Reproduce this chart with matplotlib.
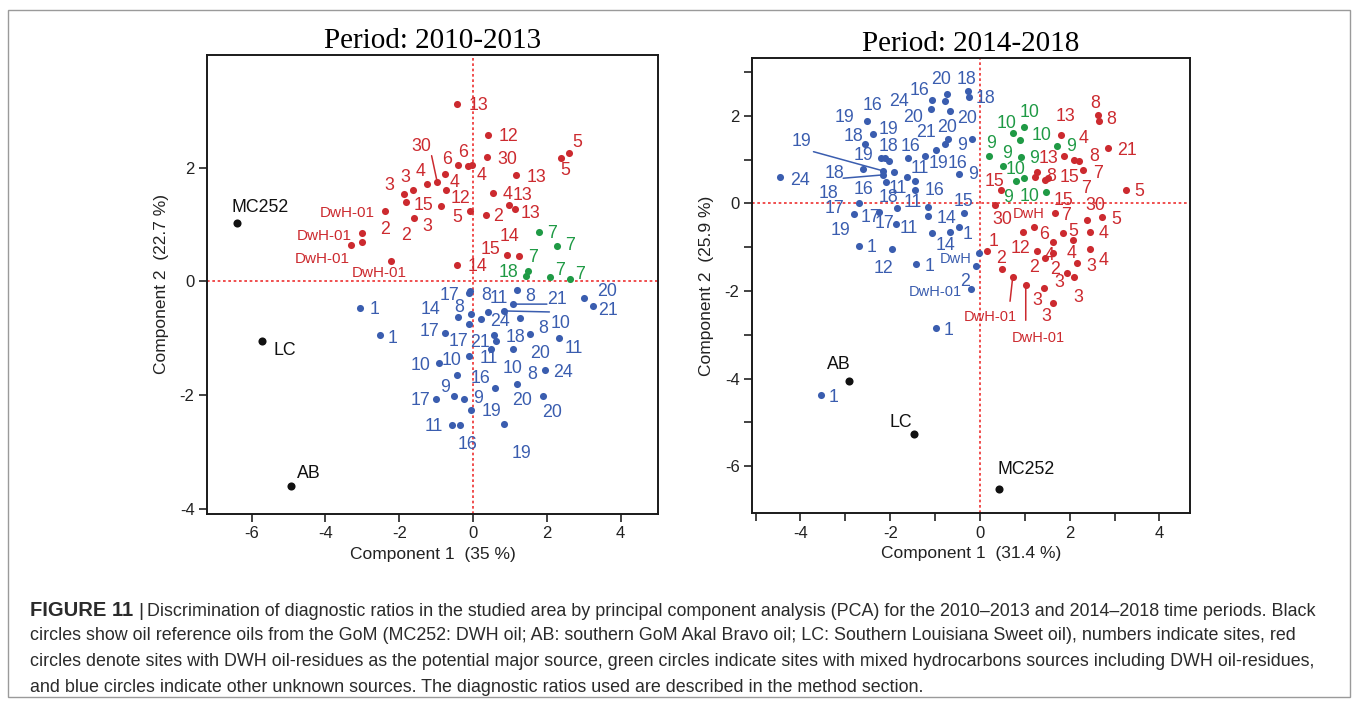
import matplotlib
matplotlib.use('Agg')
import matplotlib.pyplot as plt
from matplotlib.patches import Rectangle

plt.rcParams['font.family'] = ['Liberation Sans', 'DejaVu Sans']
plt.rcParams['axes.unicode_minus'] = False

RED = '#cc2a2f'
BLUE = '#3a5daf'
GREEN = '#1f9a45'
BLACK = '#111111'
REFLINE = '#ee3030'

# ---------------- Period 2010-2013 ----------------
p1_ref_x = [-6.41, -5.73, -4.93]
p1_ref_y = [1.02, -1.05, -3.59]
p1_ref_lab = ['MC252', 'LC', 'AB']

p1_red_x = [-2.38, -3.02, -3.02, -3.31, -2.22, -1.86, -1.62, -1.83, -1.25, -0.97,
            -0.76, -0.74, -0.87, -1.59, -0.43, -0.40, -0.13, -0.04, -0.08, -0.43,
            0.41, 0.39, 0.55, 0.34, 1.16, 0.98, 1.14, 2.38, 2.60, 0.93, 1.24]
p1_red_y = [1.23, 0.85, 0.69, 0.64, 0.35, 1.54, 1.60, 1.39, 1.71, 1.74,
            1.89, 1.60, 1.32, 1.12, 3.12, 2.04, 2.02, 2.05, 1.23, 0.29,
            2.58, 2.18, 1.56, 1.17, 1.87, 1.35, 1.28, 2.17, 2.26, 0.47, 0.44]
p1_red_lab = ['DwH-01', 'DwH-01', '2', 'DwH-01', 'DwH-01', '3', '3', '15', '4', '30',
              '4', '12', '2', '3', '13', '6', '6', '4', '5', '14',
              '12', '30', '4', '2', '13', '13', '13', '5', '5', '15', '14']

p1_green_x = [1.78, 2.27, 1.50, 1.44, 2.09, 2.63]
p1_green_y = [0.87, 0.63, 0.18, 0.09, 0.08, 0.05]
p1_green_lab = ['7', '7', '7', '18', '7', '7']

p1_blue_x = [-0.11, -0.08, 1.20, 1.07, 0.41, 0.21, 0.84, 3.01, 3.24, -0.40,
             -0.06, 1.27, -0.76, -0.10, 0.57, 1.08, 0.48, 1.53, 2.34, -0.92,
             -0.11, 1.18, 0.62, 1.95, -0.43, -0.53, -1.01, -0.24, 0.58, -0.06,
             1.89, -0.56, -0.35, 0.85, -3.06, -2.52]
p1_blue_y = [-0.21, -0.17, -0.16, -0.40, -0.53, -0.67, -0.52, -0.30, -0.43, -0.63,
             -0.57, -0.64, -0.91, -0.75, -0.95, -1.19, -1.19, -0.92, -0.99, -1.44,
             -1.32, -1.81, -1.04, -1.56, -1.64, -2.01, -2.06, -2.06, -1.88, -2.26,
             -2.01, -2.53, -2.53, -2.51, -0.46, -0.95]
p1_blue_lab = ['17', '8', '8', '21', '11', '24', '10', '20', '21', '14',
               '8', '8', '17', '17', '21', '18', '11', '20', '11', '10',
               '10', '10', '8', '24', '16', '9', '17', '9', '20', '19',
               '20', '11', '16', '19', '1', '1']

# ---------------- Period 2014-2018 ----------------
p2_ref_x = [-2.92, -1.47, 0.42]
p2_ref_y = [-4.06, -5.26, -6.52]
p2_ref_lab = ['AB', 'LC', 'MC252']

p2_red_x = [1.80, 2.63, 2.66, 2.86, 1.88, 2.09, 2.21, 2.29, 1.28, 1.23,
            1.45, 1.52, 0.46, 0.33, 1.67, 3.25, 2.38, 2.73, 2.45, 0.96,
            1.20, 1.84, 0.16, 1.63, 2.08, 1.28, 1.62, 1.45, 2.45, 0.48,
            2.17, 1.94, 2.09, 0.73, 1.02, 1.43, 1.62]
p2_red_y = [1.56, 2.02, 1.88, 1.27, 1.08, 0.99, 0.97, 0.76, 0.71, 0.61,
            0.53, 0.58, 0.30, -0.04, -0.21, 0.30, -0.37, -0.31, -0.65, -0.65,
            -0.53, -0.67, -1.08, -0.88, -0.84, -1.09, -1.13, -1.24, -1.04, -1.50,
            -1.37, -1.58, -1.68, -1.68, -1.87, -1.93, -2.28]
p2_red_lab = ['13', '8', '8', '21', '4', '7', '8', '7', '13', '8',
              '15', '15', '15', '30', '7', '5', '30', '5', '4', 'DwH',
              '6', '5', '1', '4', '4', '12', '2', '2', '4', '2',
              '3', '3', '3', 'DwH-01', 'DwH-01', '3', '3']

p2_green_x = [0.99, 0.74, 0.89, 1.71, 0.21, 0.91, 0.52, 0.80, 0.99, 1.48]
p2_green_y = [1.75, 1.60, 1.45, 1.32, 1.08, 1.06, 0.85, 0.51, 0.57, 0.25]
p2_green_lab = ['10', '10', '10', '9', '9', '9', '9', '9', '10', '10']

p2_blue_x = [-4.45, -2.52, -2.39, -2.56, -2.60, -2.20, -2.12, -2.02, -2.15, -2.17,
             -1.92, -2.09, -1.60, -1.62, -1.45, -1.45, -1.22, -0.99, -1.08, -0.74,
             -0.78, -1.10, -0.67, -0.72, -0.78, -0.26, -0.24, -0.17, -0.46, -2.69,
             -2.80, -2.24, -1.86, -1.87, -1.16, -1.15, -0.36, -1.06, -0.67, -0.47,
             -2.69, -1.97, -1.43, -0.02, -0.09, -0.21, -0.98, -3.54]
p2_blue_y = [0.60, 1.89, 1.58, 1.35, 0.78, 1.03, 1.03, 0.97, 0.74, 0.65,
             0.72, 0.48, 1.03, 0.61, 0.52, 0.30, 1.09, 1.22, 2.37, 2.49,
             2.34, 2.15, 2.11, 1.47, 1.35, 2.56, 2.42, 1.47, 0.67, 0.02,
             -0.24, -0.19, -0.11, -0.48, -0.09, -0.29, -0.21, -0.67, -0.65, -0.55,
             -0.97, -1.05, -1.39, -1.13, -1.43, -1.96, -2.85, -4.38]
p2_blue_lab = ['24', '16', '19', '18', '19', '18', '19', '18', '19', '18',
               '11', '18', '16', '11', '16', '11', '21', '19', '16', '20',
               '20', '24', '20', '20', '16', '18', '18', '9', '9', '17',
               '19', '17', '17', '11', '16', '14', '15', '14', '', '1',
               '1', '12', '1', 'DwH', '2', 'DwH-01', '1', '1']

# label placement (pixel offsets from each dot), kept apart from the values
p1_ref_off = [(24, 17.7), (22.7, -7), (17.3, 14)]
p1_red_off = [(-38, 0), (-37.3, -1), (23.7, 15), (-29, -13), (-11.7, -10), (-15.3, 10),
              (-7.7, 15), (18, -1.3), (-6.7, 15), (-15.7, 38.3), (9.3, -6.7), (14.3, -6),
              (-35.3, -27.3), (13.3, -6.7), (21, 0), (-11.7, 8.3), (-5, 16), (10, -9),
              (-13.3, -4.3), (20, 0), (20, 0), (20, 0), (14, 0), (12.7, 0), (20.3, 0),
              (13.7, 10.7), (15, -3.3), (4, -11), (7.7, 12), (-17.3, 7.3), (-9.3, 21.7)]
p1_green_off = [(13, 0), (13.3, 1.7), (5, 15.7), (-17.7, 5.3), (10, 8.3), (10, 6.3)]
p1_blue_off = [(-19.7, 0), (16, -2), (12.7, -4), (44.3, 6.7), (10.7, 15), (18.7, -0.3),
               (56, -11), (22.7, 9), (15.7, -3), (-27.7, 9.3), (-11.3, 8.3), (23.3, -9),
               (-15.7, 3.3), (-11, -15.3), (-14, -5), (2.3, 13.7), (-2.3, -7), (10.7, -18.3),
               (14, -9.3), (-19, 0), (-17.3, -2.3), (-4, 17.7), (36.7, -31.7), (18.3, 0),
               (23.7, -1.7), (-8, 10), (-15.7, 0), (13.7, 2), (27.3, -10), (21, 0),
               (9, -14.7), (-19, 0.7), (7.7, -17.7), (17.3, -27.3), (14, 0), (12.7, -0.7)]
p1_red_leaders = {9: (-5.7, 26.7)}
p1_blue_leaders = {3: (34.3, 0), 6: (45.3, -1)}

p2_ref_off = [(-9.7, 18.3), (-13.3, 13.7), (27, 21.7)]
p2_red_off = [(4.3, 20.7), (-3.3, 13.3), (11.4, 3.3), (18.4, -0.6), (19, 19.3), (12.7, -26.7),
              (14.7, 6.3), (15.6, -1.7), (11, 15.6), (15.7, 1.7), (18.3, -18.3), (21.7, 2.7),
              (-5.7, 11), (7.7, -12.7), (11, -1), (13.3, 1), (8.3, 16), (14, -0.6),
              (13.3, 0), (6, 19.4), (10, -6), (10.6, 3.4), (6, 11.4), (-3.3, -11.7),
              (-1.7, -11.7), (-17.3, 4.3), (2.3, -14.7), (-11, -8.3), (14, -9.3), (0, 13),
              (14.3, -0.7), (-7.3, -7.7), (5, -18.3), (-22, -38.3), (12.3, -51.7),
              (-7.3, -10.6), (-6, -11.7)]
p2_green_off = [(5, 16.7), (-6.6, 12.3), (21.7, 6.7), (14, 1.4), (1.7, 15), (13.3, 0),
                (3.4, 15), (-7.4, -14), (-9.3, 10.6), (-16.7, -2)]
p2_blue_off = [(20, -1.3), (6, 17.4), (15.6, 6.6), (-11.7, 9.7), (0, 15.7), (7.3, 13.3),
               (-40, 42.6), (-61, -30.3), (-81.6, 31), (-47.7, 3.3), (4.3, -15), (2.3, -13.4),
               (2.4, 14), (12.7, 10), (20, -8.3), (-1.7, -10), (1, 25), (2.6, -11.7),
               (-11.7, 11.6), (-6, 16.6), (-31.7, -14.7), (-31.4, 9.3), (16.7, -6), (-1, 14),
               (12.3, -17.4), (-1.6, 13.3), (16, 0.6), (-10.6, -4.3), (14, 1.7), (-24.3, -4.4),
               (-14.3, -14.3), (-9.3, -4), (-11.7, -13.4), (12.3, -2.4), (-64.4, 19.6),
               (17.7, -0.7), (-0.7, 12.7), (12.7, -10.6), (0, 0), (8.7, -5.4),
               (12.7, 0), (-8.3, -16.7), (14, 0), (-23.6, -4.3), (-11, -13.3), (-35.7, -1.4),
               (13, 0), (12.3, 0)]
p2_red_leaders = {33: (-2.7, -24.3), 34: (0, -35)}
p2_blue_leaders = {8: (-70, 19.3), 9: (-39.4, -3.3)}


def draw_group(ax, xs, ys, labels, offsets, color, leaders=None, dot=26, small=11):
    ax.scatter(xs, ys, s=dot, color=color, linewidths=0, zorder=3)
    leaders = leaders or {}
    for i, (x, y, lab, off) in enumerate(zip(xs, ys, labels, offsets)):
        if i in leaders:
            ax.annotate('', xy=(x, y), xytext=leaders[i], textcoords='offset pixels',
                        arrowprops=dict(arrowstyle='-', color=color, lw=1.1,
                                        shrinkA=0, shrinkB=0), zorder=2)
        if not lab:
            continue
        fs = small if lab.startswith('DwH') else 12.8
        ax.annotate(lab, (x, y), xytext=off, textcoords='offset pixels',
                    ha='center', va='center_baseline', color=color, fontsize=fs, zorder=4)


def style_axes(ax, title, xlabel, ylabel, xlim, ylim, xticks, yticks, minor_x=(), minor_y=()):
    ax.set_xlim(*xlim)
    ax.set_ylim(*ylim)
    ax.set_xticks(xticks)
    ax.set_yticks(yticks)
    ax.set_xticks(minor_x, minor=True)
    ax.set_yticks(minor_y, minor=True)
    ax.tick_params(which='both', direction='out', length=6, width=1.2, labelsize=12,
                   colors='#222222', pad=3)
    for sp in ax.spines.values():
        sp.set_linewidth(1.4)
        sp.set_color('#1a1a1a')
    ax.axhline(0, color=REFLINE, ls=(0, (1.6, 1.6)), lw=1.2, zorder=1)
    ax.axvline(0, color=REFLINE, ls=(0, (1.6, 1.6)), lw=1.2, zorder=1)
    ax.set_title(title, fontfamily='Liberation Serif', fontsize=21, pad=5)
    ax.set_xlabel(xlabel, fontsize=12.5, labelpad=4, color='#222222')
    ax.set_ylabel(ylabel, fontsize=12.5, labelpad=8, color='#222222')


fig = plt.figure(figsize=(13.58, 7.01), dpi=100)
W, H = 1358, 701
ax1 = fig.add_axes([207 / W, 1 - 514 / H, 451 / W, 459 / H])
ax2 = fig.add_axes([752 / W, 1 - 513 / H, 438 / W, 455 / H])

style_axes(ax1, 'Period: 2010-2013', 'Component 1  (35 %)', 'Component 2  (22.7 %)',
           (-7.21, 5.01), (-4.09, 3.98), [-6, -4, -2, 0, 2, 4], [-4, -2, 0, 2])
draw_group(ax1, p1_blue_x, p1_blue_y, p1_blue_lab, p1_blue_off, BLUE, p1_blue_leaders)
draw_group(ax1, p1_red_x, p1_red_y, p1_red_lab, p1_red_off, RED, p1_red_leaders)
draw_group(ax1, p1_green_x, p1_green_y, p1_green_lab, p1_green_off, GREEN)
draw_group(ax1, p1_ref_x, p1_ref_y, p1_ref_lab, p1_ref_off, BLACK, dot=34)

style_axes(ax2, 'Period: 2014-2018', 'Component 1  (31.4 %)', 'Component 2  (25.9 %)',
           (-5.08, 4.68), (-7.07, 3.32), [-4, -2, 0, 2, 4], [-6, -4, -2, 0, 2],
           minor_x=[-5, -3, -1, 1, 3], minor_y=[-5, -3, -1, 1, 3])
draw_group(ax2, p2_blue_x, p2_blue_y, p2_blue_lab, p2_blue_off, BLUE, p2_blue_leaders, small=10.5)
draw_group(ax2, p2_red_x, p2_red_y, p2_red_lab, p2_red_off, RED, p2_red_leaders, small=10.5)
draw_group(ax2, p2_green_x, p2_green_y, p2_green_lab, p2_green_off, GREEN)
draw_group(ax2, p2_ref_x, p2_ref_y, p2_ref_lab, p2_ref_off, BLACK, dot=34)

# outer frame around the figure
fig.patches.append(Rectangle((8 / W, 4 / H), 1342 / W, 687 / H, transform=fig.transFigure,
                             fill=False, edgecolor='#9a9a9a', lw=1.0))

caption = [
    'Discrimination of diagnostic ratios in the studied area by principal component analysis (PCA) '
    'for the 2010\u20132013 and 2014\u20132018 time periods. Black',
    'circles show oil reference oils from the GoM (MC252: DWH oil; AB: southern GoM Akal Bravo oil; '
    'LC: Southern Louisiana Sweet oil), numbers indicate sites, red',
    'circles denote sites with DWH oil-residues as the potential major source, green circles indicate '
    'sites with mixed hydrocarbons sources including DWH oil-residues,',
    'and blue circles indicate other unknown sources. The diagnostic ratios used are described in '
    'the method section.',
]
cap_color = '#2b2b2b'
cap_y = [609, 634, 659, 685]
cap_fs = 12.9
head = fig.text(30 / W, 1 - cap_y[0] / H, 'FIGURE 11', fontsize=14.5, fontweight='bold',
                color=cap_color, va='center_baseline')
fig.canvas.draw()
hx = head.get_window_extent().x1
fig.text((hx + 5) / W, 1 - cap_y[0] / H, '|', fontsize=14, color=cap_color,
         va='center_baseline')
fig.text((hx + 14) / W, 1 - cap_y[0] / H, caption[0], fontsize=cap_fs, color=cap_color,
         va='center_baseline')
for line, yy in zip(caption[1:], cap_y[1:]):
    fig.text(30 / W, 1 - yy / H, line, fontsize=cap_fs, color=cap_color, va='center_baseline')

fig.savefig('out.png', dpi=100)
